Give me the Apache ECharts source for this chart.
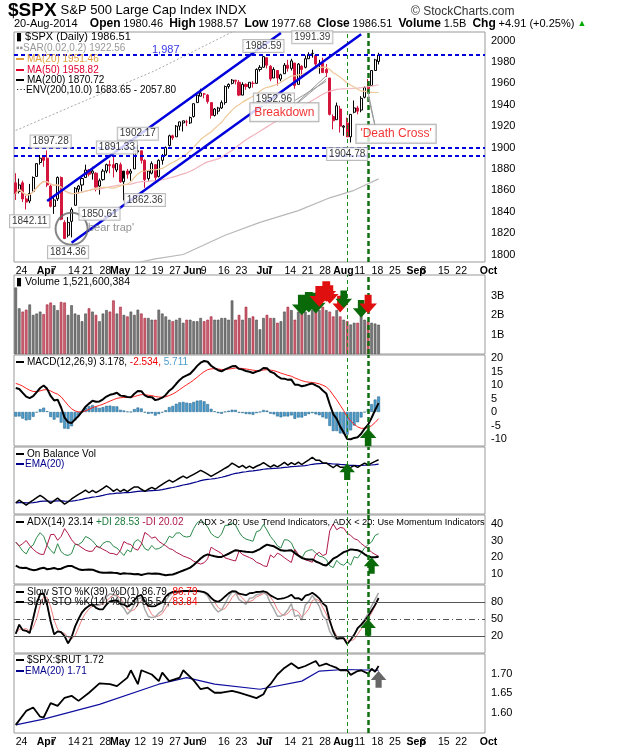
<!DOCTYPE html>
<html><head><meta charset="utf-8">
<script src="https://cdn.jsdelivr.net/npm/echarts@6/dist/echarts.min.js"></script>
<style>html,body{margin:0;padding:0;background:#fff}#c{width:620px;height:750px}</style>
</head><body><div id="c"></div>
<script>
const holidays=['2014-04-18','2014-05-26','2014-07-04','2014-09-01'];
const opens=[1867,1859,1867,1852,1850,1859,1873,1886,1891,1890,1864,1845,1852,1872,1830,1818,1831,1846,1861,1865,1872,1879,1876,1876,1864,1870,1878,1884,1884,1879,1884,1868,1878,1876,1880,1896,1897,1888,1871,1876,1884,1873,1888,1893,1902,1911,1910,1920,1923,1924,1923,1929,1942,1948,1950,1949,1942,1930,1934,1937,1942,1957,1960,1963,1961,1949,1959,1956,1960,1960,1973,1975,1984,1976,1965,1972,1964,1969,1977,1974,1979,1959,1976,1975,1983,1988,1986,1978,1979,1973,1965,1929,1926,1936,1919,1923,1910,1933,1937,1935,1947,1958,1958,1972,1980.46];
const highs=[1876,1871,1869,1855,1866,1873,1885,1893,1893,1897.28,1866,1855,1873,1873,1832,1835,1844,1863,1865,1872,1884,1880,1882,1877,1871,1880,1885,1888,1891.33,1885,1886,1871,1880,1880,1897,1902.17,1897,1889,1878,1887,1884,1889,1894,1901,1912,1912,1921,1924,1925,1926,1929,1941,1950,1955,1951,1950,1942,1937,1938,1944,1958,1960,1964,1963,1963,1961,1960,1961,1962,1974,1977,1985.59,1984,1977,1975,1972,1969,1979,1982,1983,1979,1979,1977,1986,1989,1991.39,1986,1982,1984,1978,1965,1931,1942,1939,1921,1928,1931,1944,1939,1948,1957,1964,1972,1983,1988.57];
const lows=[1851,1857,1849,1842.11,1848,1858,1873,1884,1882,1863,1844,1838,1850,1832,1814.36,1816,1816,1846,1857,1859,1872,1873,1870,1859,1856,1869,1876,1876,1872,1877,1867,1850.61,1871,1869,1880,1895,1885,1862.36,1869,1875,1868,1872,1884,1892,1901,1907,1910,1916,1915,1920,1922,1928,1942,1948,1946,1941,1927,1929,1931,1936,1940,1955,1959,1959,1948,1949,1954,1955,1956,1960,1971,1975,1974,1962,1965,1958,1962,1969,1971,1972,1955,1959,1965,1974,1983,1984,1974,1969,1970,1966,1930,1917,1926,1914,1911,1911,1904.78,1932,1931,1933,1946,1952,1958,1972,1977.68];
const closes=[1857,1865,1852,1849,1857,1872,1885,1890,1888,1865,1845,1851,1872,1833,1815,1830,1842,1862,1864,1871,1879,1875,1878,1863,1869,1878,1884,1883,1881,1885,1868,1878,1875,1878,1897,1897,1888,1870,1878,1885,1872,1888,1892,1900,1911,1909,1920,1924,1925,1924,1928,1941,1949,1951,1950,1943,1930,1936,1937,1942,1957,1959,1963,1962,1949,1959,1957,1961,1960,1973,1975,1985,1977,1964,1973,1965,1968,1977,1974,1981,1958,1978,1973,1983,1987,1988,1978,1978,1970,1970,1931,1925,1939,1920,1920,1910,1931,1937,1934,1946,1956,1955,1972,1982,1986.51];
const volumesB=[3.45,2.37,2.2,2.3,2.57,2.03,2.1,2.2,2.07,2.57,2.67,2.53,2.28,2.7,2.67,2.03,2.53,2.1,2.03,1.7,2.1,2.37,2.2,2.03,1.7,2.1,2.28,2.2,2.78,2.1,2.45,2.03,1.95,2.2,2.03,2.3,2.1,1.87,1.87,1.78,1.78,2.3,2.1,1.95,1.78,1.7,1.78,1.87,1.62,1.78,1.78,1.7,1.7,1.87,1.7,1.78,1.95,1.78,1.78,1.87,1.87,1.78,2.78,1.78,2.03,1.78,2.45,1.87,1.95,1.78,1.28,1.87,2.03,1.87,1.87,1.62,1.7,2.2,2.45,2.28,1.78,2.2,2.1,2.2,2.03,2.28,2.62,2.28,2.45,2.28,2.2,1.95,2.28,1.95,1.78,1.7,1.53,1.62,1.62,2.03,1.78,1.7,1.62,1.58,1.52];
const ma200Idx=[0,10,20,30,40,48,60,70,81,90,97,104];
const ma200Val=[1765,1773,1781,1789,1796,1800,1818,1830,1841,1853,1860,1870.72];
const envIdx=[0,20,40,62,80,104];
const envVal=[1916,1944,1972,2008,2030,2057.8];
const rutIdx=[0,3,5,7,8,10,12,14,16,18,21,24,27,29,32,33,35,36,39,41,42,44,47,48,51,53,55,57,59,62,64,67,69,71,72,73,75,77,79,81,83,86,87,89,90,92,93,95,96,98,99,101,102,103,104];
const rutVal=[1.568,1.604,1.613,1.589,1.587,1.624,1.617,1.638,1.643,1.630,1.651,1.675,1.673,1.668,1.690,1.709,1.673,1.709,1.698,1.681,1.703,1.681,1.690,1.709,1.683,1.660,1.664,1.651,1.651,1.656,1.651,1.643,1.637,1.647,1.664,1.673,1.698,1.715,1.727,1.714,1.720,1.733,1.720,1.726,1.722,1.715,1.709,1.709,1.697,1.707,1.709,1.700,1.713,1.705,1.72];
const rutEmaIdx=[0,8,24,41,49,57,70,82,87,94,104];
const rutEmaVal=[1.568,1.583,1.621,1.673,1.690,1.673,1.660,1.681,1.707,1.711,1.709];

const dates=[];{let t=Date.UTC(2014,2,24);const end=Date.UTC(2014,9,2);while(t<=end){const d=new Date(t);const w=d.getUTCDay();const s=d.toISOString().slice(0,10);if(w>0&&w<6&&!holidays.includes(s))dates.push(s);t+=864e5;}}
const MN=['Jan','Feb','Mar','Apr','May','Jun','Jul','Aug','Sep','Oct','Nov','Dec'];
const mStart=dates.map((s,i)=>i>0&&s.slice(5,7)!==dates[i-1].slice(5,7));
const labels=dates.map((s,i)=>{const d=new Date(s+'T00:00:00Z');if(mStart[i])return '{b|'+MN[d.getUTCMonth()]+'}';
 const wk=i===0||(d-new Date(dates[i-1]+'T00:00:00Z'))>864e5*2.5||d.getUTCDay()<new Date(dates[i-1]+'T00:00:00Z').getUTCDay();
 if(!wk)return '';for(let j=Math.max(0,i-2);j<=Math.min(dates.length-1,i+2);j++)if(mStart[j])return '';return String(d.getUTCDate());});

const N=closes.length;
function sma(a,n){return a.map((v,i)=>{const s=a.slice(Math.max(0,i-n+1),i+1);return +(s.reduce((x,y)=>x+y,0)/s.length).toFixed(2);});}
function ema(a,n,seed){const k=2/(n+1);const o=[];let e=seed;a.forEach((v,i)=>{e=(i===0&&seed===undefined)?v:e+k*(v-e);o.push(e);});return o;}
const ma20=sma(closes,20),ma50=sma(closes,50);
const e12=ema(closes,12,1862),e26=ema(closes,26,1852);
const macd=e12.map((v,i)=>v-e26[i]);const sig=ema(macd,9,11);const hist=macd.map((v,i)=>v-sig[i]);
const obv=[0];for(let i=1;i<N;i++)obv.push(obv[i-1]+(closes[i]>closes[i-1]?volumesB[i]:closes[i]<closes[i-1]?-volumesB[i]:0));
const obvE=ema(obv,20);
const pdi=[],mdi=[],adx=[];{let atr=12,pd=3.5,md=3.5,ax=15;for(let i=0;i<N;i++){if(i>0){const tr=Math.max(highs[i]-lows[i],Math.abs(highs[i]-closes[i-1]),Math.abs(lows[i]-closes[i-1]));let up=highs[i]-highs[i-1],dn=lows[i-1]-lows[i];const p=(up>dn&&up>0)?up:0,m=(dn>up&&dn>0)?dn:0;atr=(atr*13+tr)/14;pd=(pd*13+p)/14;md=(md*13+m)/14;}
 const P=100*pd/atr,M=100*md/atr;const dx=100*Math.abs(P-M)/(P+M||1);if(i>0)ax=(ax*13+dx)/14;pdi.push(P);mdi.push(M);adx.push(ax);}}
function fastK(n){return closes.map((c,i)=>{const hh=Math.max(...highs.slice(Math.max(0,i-n+1),i+1)),ll=Math.min(...lows.slice(Math.max(0,i-n+1),i+1));return 100*(c-ll)/(hh-ll||1);});}
const sk39=sma(fastK(39),3),sk14=sma(fastK(14),3),sd14=sma(sk14,3);
const sparse=(ix,vs)=>ix.map((x,i)=>[x,vs[i]]);

const L=14,R=135,F='Liberation Sans, Arial, sans-serif';
const grids=[[32,230],[275,79],[355,91],[447,67],[515,69],[585,68],[654,79]].map(g=>({left:L,right:R,top:g[0],height:g[1],show:true,borderColor:'#999',borderWidth:1,backgroundColor:'#fff'}));
const xAxes=grids.map((g,i)=>({type:'category',gridIndex:i,data:dates,boundaryGap:true,axisTick:{show:false},axisLine:{show:false},
 axisLabel:{show:i===0||i===6,interval:(k)=>labels[k]!=='',formatter:(v,k)=>labels[k],color:'#000',fontSize:10.5,fontFamily:F,align:'left',margin:4,rich:{b:{fontWeight:'bold',fontSize:10.5,fontFamily:F}}}}));
function yA(i,min,max,vals,fmt){return {type:'value',gridIndex:i,position:'right',min,max,splitLine:{show:false},axisLine:{show:false},axisTick:{show:false},
 axisLabel:{show:!!vals,customValues:vals||undefined,formatter:fmt||(v=>String(v)),color:'#000',fontSize:11,fontFamily:F,margin:6}};}
const yAxes=[yA(0,1793,2008,[1800,1820,1840,1860,1880,1900,1920,1940,1960,1980,2000]),
 yA(1,0,4.1,[1,2,3],v=>v+'B'),yA(2,-12.6,21.1,[-10,-5,0,5,10,15,20]),yA(3,null,null,null),
 yA(4,4,45.4,[10,20,30,40]),yA(5,-10,110,[20,50,80]),yA(6,1.547,1.751,[1.60,1.65,1.70],v=>v.toFixed(2))];
yAxes[3].scale=true;
const vl=()=>[{xAxis:dates[95],lineStyle:{color:'#1a8a1a',width:1,type:[4,3]}},{xAxis:dates[101],lineStyle:{color:'#0f6e0f',width:2.5,type:[5,3]}}];
const vML=()=>({symbol:'none',silent:true,label:{show:false},data:vl()});
const arrowD='path://M3,0 L7,0 L7,6 L10,6 L5,11 L0,6 L3,6 Z';
const arrow=(x,y,c,up,s)=>({coord:[x,y],symbol:arrowD,symbolSize:s||[12,14],symbolRotate:up?180:0,itemStyle:{color:c,borderColor:c},label:{show:false}});
const G='#0a6a0a',RD='#e01010';
const blue='#0000dd';
const hl=(v)=>({yAxis:v,lineStyle:{color:blue,width:2,type:[4,3]}});
const seg=(a,b,c,w,t)=>[{coord:a,lineStyle:{color:c,width:w,type:t||'solid'}},{coord:b}];
const tag=(x,y,t,o)=>Object.assign({value:[x,y],label:{show:true,formatter:t,position:'inside',fontSize:10,fontFamily:F,color:'#000',backgroundColor:'#fff',borderColor:'#aaa',borderWidth:1,padding:[1,2]}},o||{});
const box=(t,c,fs)=>({label:{show:true,formatter:t,position:'inside',fontSize:fs||12,fontFamily:F,color:c,backgroundColor:'#fff',borderColor:'#999',borderWidth:1,padding:[3,4]}});
const tags=[tag(10,1905.6,'1897.28'),tag(29,1900,'1891.33'),tag(35,1913,'1902.17'),tag(4,1831,'1842.11'),tag(24,1838,'1850.61'),tag(15,1802,'1814.36'),tag(37,1851,'1862.36'),tag(71,1995,'1985.59'),tag(84.5,2003,'1991.39'),tag(94.5,1894,'1904.78'),tag(74,1945,'1952.96'),
 tag(77,1933,'',box('Breakdown','#e00')),
 tag(109,1913,'',box("'Death Cross'",'#e00')),
 tag(27,1825,'',{label:{show:true,formatter:"'bear trap'",position:'inside',fontSize:11,fontFamily:F,color:'#777'}}),
 tag(43,1991,'',{label:{show:true,formatter:'1,987',position:'inside',fontSize:11,fontFamily:F,color:blue}})];
const series=[
 {type:'line',xAxisIndex:0,yAxisIndex:0,data:sparse(envIdx,envVal),showSymbol:false,lineStyle:{color:'#aaa',width:1,type:[2,2]},silent:true},
 {type:'line',xAxisIndex:0,yAxisIndex:0,data:sparse(ma200Idx,ma200Val),showSymbol:false,lineStyle:{color:'#b8b8b8',width:1.2},silent:true},
 {type:'line',xAxisIndex:0,yAxisIndex:0,data:ma50,showSymbol:false,lineStyle:{color:'#f2b4bc',width:1.2},silent:true},
 {type:'line',xAxisIndex:0,yAxisIndex:0,data:ma20,showSymbol:false,lineStyle:{color:'#eec999',width:1.2},silent:true,markLine:vML()},
 {type:'candlestick',xAxisIndex:0,yAxisIndex:0,barWidth:2.6,data:closes.map((c,i)=>[opens[i],c,lows[i],highs[i]]),
  itemStyle:{color:'#fff',color0:'#d4163c',borderColor:'#000',borderColor0:'#d4163c',borderWidth:1},
  markLine:{symbol:'none',silent:true,label:{show:false},data:[hl(1987),hl(1900),hl(1892),
   [{coord:[-3,1842],lineStyle:{color:blue,width:2,type:[4,3]}},{coord:[36,1842]}],
   [{coord:[-3,1814],lineStyle:{color:blue,width:2,type:[4,3]}},{coord:[55,1814]}],
   seg([9,1850],[76,2007],blue,2.5),seg([16,1811],[99,2006],blue,2.5),
   seg([80,1940],[89,1967],'#999',1),seg([81,1942],[89,1964],'#999',1),seg([80,1944],[89,1962],'#999',1),
   seg([102.5,1920],[101,1952],'#999',1),seg([103,1920],[101,1948],'#999',1)]}},
 {type:'scatter',xAxisIndex:0,yAxisIndex:0,data:[[16,1824]],symbol:'circle',symbolSize:32,itemStyle:{color:'rgba(0,0,0,0)',borderColor:'#666',borderWidth:2},silent:true,z:5},
 {type:'scatter',xAxisIndex:0,yAxisIndex:0,data:tags,symbolSize:0,silent:true,z:10},
 {type:'bar',xAxisIndex:1,yAxisIndex:1,barWidth:2.6,data:volumesB.map((v,i)=>({value:v,itemStyle:(i>0&&closes[i]<closes[i-1])?{color:'#cc6470',borderColor:'#a3203a'}:{color:'#7a7a7a',borderColor:'#4a4a4a'}})),itemStyle:{borderWidth:0.6},silent:true,
  markLine:vML(),markPoint:{data:[arrow(82,2.55,G,0,[15,18]),arrow(84,2.7,G,0,[15,18]),arrow(86,2.65,G,0,[15,18]),arrow(87,3.0,RD,0,[15,18]),arrow(89,3.25,RD,0,[15,18]),arrow(90,3.1,RD,0,[13,16]),arrow(92.5,2.6,RD,0,[11,14]),arrow(93.5,2.85,G,0,[12,15]),arrow(98.5,2.35,G,0,[12,15]),arrow(100.7,2.6,RD,0,[13,16])]}},
 {type:'bar',xAxisIndex:2,yAxisIndex:2,barWidth:2.8,data:hist,itemStyle:{color:'#4c9ccc',borderColor:'#1e5f86',borderWidth:0.5},silent:true,markLine:vML()},
 {type:'line',xAxisIndex:2,yAxisIndex:2,data:sig,showSymbol:false,lineStyle:{color:'#ff2020',width:1},silent:true},
 {type:'line',xAxisIndex:2,yAxisIndex:2,data:macd,showSymbol:false,lineStyle:{color:'#000',width:2},silent:true,markPoint:{data:[arrow(100.5,-9.5,G,1,[12,15])]}},
 {type:'line',xAxisIndex:3,yAxisIndex:3,data:obvE,showSymbol:false,lineStyle:{color:'#00008b',width:1.2},silent:true,markLine:vML()},
 {type:'line',xAxisIndex:3,yAxisIndex:3,data:obv,showSymbol:false,lineStyle:{color:'#000',width:1.5},silent:true,markPoint:{data:[arrow(95,obv[95]-2.5,G,1,[11,14])]}},
 {type:'line',xAxisIndex:4,yAxisIndex:4,data:pdi,showSymbol:false,lineStyle:{color:'#2a8a4a',width:1},silent:true,markLine:vML()},
 {type:'line',xAxisIndex:4,yAxisIndex:4,data:mdi,showSymbol:false,lineStyle:{color:'#b01848',width:1},silent:true},
 {type:'line',xAxisIndex:4,yAxisIndex:4,data:adx,showSymbol:false,lineStyle:{color:'#000',width:2},silent:true,markPoint:{data:[arrow(101.5,15,G,1,[11,14])]}},
 {type:'line',xAxisIndex:5,yAxisIndex:5,data:sd14,showSymbol:false,lineStyle:{color:'#f08080',width:1},silent:true,
  markLine:{symbol:'none',silent:true,label:{show:false},data:[{yAxis:80,lineStyle:{color:'#555',width:1,type:'solid'}},{yAxis:20,lineStyle:{color:'#555',width:1,type:'solid'}},{yAxis:50,lineStyle:{color:'#555',width:1,type:[6,3,1,3]}}].concat(vl())}},
 {type:'line',xAxisIndex:5,yAxisIndex:5,data:sk14,showSymbol:false,lineStyle:{color:'#a8a8a8',width:1.5},silent:true},
 {type:'line',xAxisIndex:5,yAxisIndex:5,data:sk39,showSymbol:false,lineStyle:{color:'#000',width:1.8},silent:true,markPoint:{data:[arrow(101,35,G,1,[11,14])]}},
 {type:'line',xAxisIndex:6,yAxisIndex:6,data:sparse(rutEmaIdx,rutEmaVal),showSymbol:false,lineStyle:{color:'#1010a0',width:1.2},silent:true,markLine:vML()},
 {type:'line',xAxisIndex:6,yAxisIndex:6,data:sparse(rutIdx,rutVal),showSymbol:false,lineStyle:{color:'#000',width:1.8},silent:true,markPoint:{data:[arrow(104,1.685,'#666',1,[11,14])]}}
];
const T=(x,y,rich,text,o)=>Object.assign({type:'text',left:x,top:y,z:100,style:{text,rich,fontSize:10,fontFamily:F,fill:'#000'}},o||{});
const k=(c,extra)=>Object.assign({fontSize:10,fontFamily:F,fill:c},extra||{});
const s8=(c)=>({width:8,height:2,backgroundColor:c});
const graphic=[
 T(8,1,{h:{fontSize:19,fontWeight:'bold',fontFamily:F},n:{fontSize:13,fontFamily:F,padding:[0,0,0,4]}},'{h|$SPX}{n|S&P 500 Large Cap Index INDX}'),
 T(411,6,{},'',{style:{text:'© StockCharts.com',fontSize:12,fontFamily:F,fill:'#333'}}),
 T(14,18,{b:{fontWeight:'bold',fontSize:12,fontFamily:F},n:{fontSize:11,fontFamily:F},g:{fontSize:9,fill:'#0a0',fontFamily:F}},'{n|20-Aug-2014    }{b|Open} {n|1980.46  }{b|High} {n|1988.57  }{b|Low} {n|1977.68  }{b|Close} {n|1986.51  }{b|Volume} {n|1.5B  }{b|Chg} {n|+4.91 (+0.25%) }{g|▲}'),
 T(16,31,{},'',{style:{text:'▮ $SPX (Daily) 1986.51',fontSize:11,fontFamily:F,fill:'#000'}}),
 T(16,43,{},'',{style:{text:'▪▪SAR(0.02,0.2) 1922.56',fontSize:10,fontFamily:F,fill:'#999'}}),
 T(16,54,{s:s8('#e0a040'),t:k('#e0a040',{padding:[0,0,0,3]})},'{s|}{t|MA(20) 1951.46}'),
 T(16,65,{s:s8('#e00030'),t:k('#e00030',{padding:[0,0,0,3]})},'{s|}{t|MA(50) 1958.82}'),
 T(16,75,{s:s8('#000'),t:k('#000',{padding:[0,0,0,3]})},'{s|}{t|MA(200) 1870.72}'),
 T(16,85,{t:k('#000')},'{t|⋯ENV(200,10.0) 1683.65 - 2057.80}'),
 T(16,277,{},'',{style:{text:'▮ Volume 1,521,600,384',fontSize:10.5,fontFamily:F,fill:'#000'}}),
 T(16,357,{s:s8('#000'),k:k('#000',{padding:[0,0,0,3]}),r:k('#e00'),c:k('#4c9ccc')},'{s|}{k|MACD(12,26,9) 3.178, }{r|-2.534, }{c|5.711}'),
 T(16,449,{s:s8('#000'),k:k('#000',{padding:[0,0,0,3]})},'{s|}{k|On Balance Vol}'),
 T(16,459,{s:s8('#00008b'),k:k('#00008b',{padding:[0,0,0,1]})},'{s|}{k|EMA(20)}'),
 T(16,517,{s:s8('#000'),k:k('#000',{padding:[0,0,0,3]}),g:k('#1a7a3a'),r:k('#b01848')},'{s|}{k|ADX(14) 23.14 }{g|+DI 28.53 }{r|-DI 20.02}'),
 T(198,518,{},'',{style:{text:'ADX > 20: Use Trend Indicators, ADX < 20: Use Momentum Indicators',fontSize:9.2,fontFamily:F,fill:'#000'}}),
 T(16,587,{s:s8('#000'),k:k('#000',{padding:[0,0,0,3]}),r:k('#e00')},'{s|}{k|Slow STO %K(39) %D(1) 86.79, }{r|86.79}'),
 T(16,597,{s:s8('#000'),k:k('#000',{padding:[0,0,0,3]}),r:k('#e00')},'{s|}{k|Slow STO %K(14) %D(3) 95.54, }{r|83.84}'),
 T(16,655,{s:s8('#000'),k:k('#000',{padding:[0,0,0,3]})},'{s|}{k|$SPX:$RUT 1.72}'),
 T(16,666,{s:s8('#00008b'),k:k('#00008b',{padding:[0,0,0,1]})},'{s|}{k|EMA(20) 1.71}')
];
const chart=echarts.init(document.getElementById('c'),null,{renderer:'canvas'});
chart.setOption({animation:false,backgroundColor:'#fff',grid:grids,xAxis:xAxes,yAxis:yAxes,series,graphic});
</script></body></html>
